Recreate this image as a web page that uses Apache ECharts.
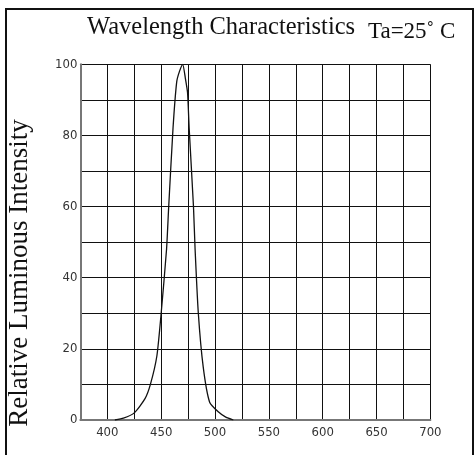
<!DOCTYPE html>
<html>
<head>
<meta charset="utf-8">
<script src="https://cdn.jsdelivr.net/npm/echarts@6/dist/echarts.min.js"></script>
<style>
html,body{margin:0;padding:0;background:#fff;}
#c{width:475px;height:455px;}
</style>
</head>
<body>
<div id="c"></div>
<script>
var wavelengths = [407, 415, 425, 435, 440, 446, 450, 455, 457, 461, 464.4, 467, 470, 472.5, 474.5, 476, 480, 481.5, 484.5, 489, 495, 503, 510, 517];
var intensity   = [0, 0.5, 2, 6, 10, 18, 30, 48, 60, 82, 95, 98, 100, 96, 92, 82, 60, 48, 30, 15, 5, 2.3, 0.8, 0];
var xTickLabels = [400, 450, 500, 550, 600, 650, 700];
var yTickLabels = [0, 20, 40, 60, 80, 100];

var chart = echarts.init(document.getElementById('c'), null, {renderer: 'canvas'});
var lblFont = "DejaVu Sans Condensed";
var option = {
  backgroundColor: '#fff',
  animation: false,
  graphic: [
    {type: 'rect', shape: {x: 6, y: 9, width: 467, height: 460}, style: {fill: 'none', stroke: '#111', lineWidth: 2}},
    {type: 'text', left: 87, top: 15, style: {text: 'Wavelength Characteristics', font: "24.5px 'Liberation Serif'", fill: '#111'}},
    {type: 'text', left: 368, top: 20, style: {text: 'Ta=25\u02DA C', font: "23px 'Liberation Serif'", fill: '#111'}},
    {type: 'text', x: 20, y: 273, rotation: Math.PI / 2,
      style: {text: 'Relative Luminous Intensity', font: "27px 'Liberation Serif'", fill: '#111', align: 'center', verticalAlign: 'middle'}}
  ],
  grid: {left: 80.4, right: 44.6, top: 64.3, bottom: 35, outerBoundsMode: 'none', containLabel: false},
  xAxis: {
    type: 'value', min: 375, max: 700, interval: 25,
    axisLine: {show: true, lineStyle: {color: '#777', width: 2}},
    axisTick: {show: false},
    splitLine: {show: true, lineStyle: {color: '#111', width: 1}},
    axisLabel: {
      margin: 6, color: '#333', fontSize: 13, fontFamily: lblFont,
      formatter: function (v) { return xTickLabels.indexOf(v) >= 0 ? String(v) : ''; }
    }
  },
  yAxis: {
    type: 'value', min: 0, max: 100, interval: 10,
    axisLine: {show: true, lineStyle: {color: '#777', width: 2}},
    axisTick: {show: false},
    splitLine: {show: true, lineStyle: {color: '#111', width: 1}},
    axisLabel: {
      margin: 3, color: '#333', fontSize: 13, fontFamily: lblFont,
      formatter: function (v) { return yTickLabels.indexOf(v) >= 0 ? String(v) : ''; }
    }
  },
  series: [{
    type: 'line',
    data: wavelengths.map(function (w, i) { return [w, intensity[i]]; }),
    showSymbol: false,
    smooth: 0.2,
    lineStyle: {color: '#111', width: 1.3},
    z: 5
  }]
};
chart.setOption(option);
</script>
</body>
</html>
